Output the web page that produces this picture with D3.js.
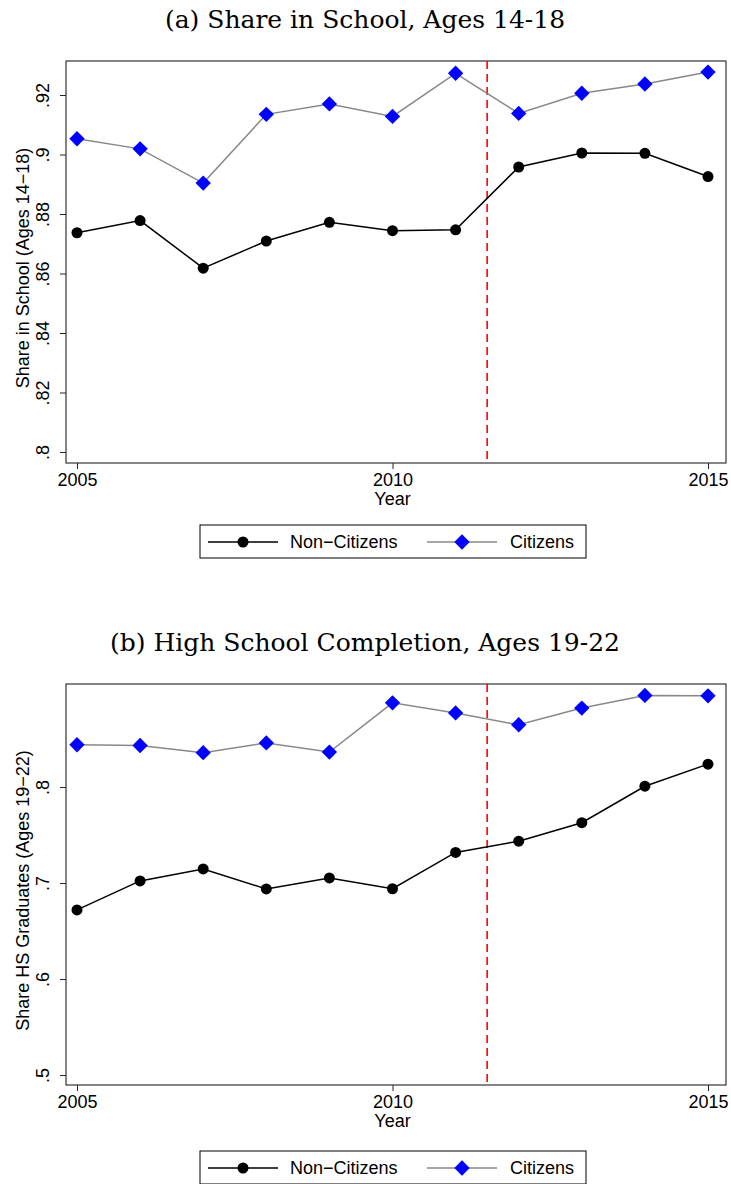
<!DOCTYPE html>
<html><head>
<meta charset="utf-8">
<script src="https://cdnjs.cloudflare.com/ajax/libs/d3/7.8.5/d3.min.js"></script>
<style>
body { margin: 0; background: #fff; }
svg { display: block; }
.tick-label, .axis-title, .legend text { font-family: "Liberation Sans", Arial, sans-serif; fill: #000; }
.panel-title { font-family: "DejaVu Serif", "Liberation Serif", serif; fill: #000; }
</style>
</head>
<body>
<div id="chart"></div>
<script>
// Data
const years = [2005, 2006, 2007, 2008, 2009, 2010, 2011, 2012, 2013, 2014, 2015];
const yearTicks = [2005, 2010, 2015];
const cutoffYear = 2011.5;

const schoolNonCitizens = [0.8737, 0.8778, 0.8618, 0.8709, 0.8772, 0.8744, 0.8747, 0.8958, 0.9005, 0.9004, 0.8926];
const schoolCitizens    = [0.9053, 0.9019, 0.8904, 0.9135, 0.9170, 0.9128, 0.9273, 0.9138, 0.9206, 0.9237, 0.9277];
const schoolTicks = [0.8, 0.82, 0.84, 0.86, 0.88, 0.9, 0.92];

const hsNonCitizens = [0.6720, 0.7022, 0.7146, 0.6938, 0.7053, 0.6940, 0.7318, 0.7436, 0.7628, 0.8008, 0.8238];
const hsCitizens    = [0.8440, 0.8432, 0.8358, 0.8459, 0.8364, 0.8877, 0.8772, 0.8648, 0.8822, 0.8954, 0.8950];
const hsTicks = [0.5, 0.6, 0.7, 0.8];

const seriesNames = ["Non\u2212Citizens", "Citizens"];

const width = 731, height = 1184;
const svg = d3.select("#chart").append("svg")
    .attr("width", width)
    .attr("height", height);

const fmt = v => d3.format(".2~f")(v).replace(/^0/, "");

function drawPanel(opt) {
    const g = svg.append("g").attr("transform", `translate(0,${opt.top})`);
    const box = {left: 66, right: 726, top: 0, bottom: opt.boxH};

    const x = d3.scaleLinear().domain([2005, 2015]).range([77, 708]);
    const y = d3.scaleLinear().domain(opt.yDomain).range(opt.yRange);

    // title
    svg.append("text")
        .attr("class", "panel-title")
        .attr("x", 365)
        .attr("y", opt.titleY)
        .attr("text-anchor", "middle")
        .style("font-size", "25px")
        .text(opt.title);

    // y axis
    const yAxis = g.append("g")
        .attr("transform", `translate(${box.left},0)`)
        .call(d3.axisLeft(y).tickValues(opt.yTicks).tickSize(6).tickFormat(fmt));
    yAxis.select(".domain").remove();
    yAxis.selectAll(".tick line").attr("stroke", "#222");
    yAxis.selectAll(".tick text")
        .attr("class", "tick-label")
        .attr("x", null).attr("dy", null)
        .attr("transform", "translate(-17,0) rotate(-90)")
        .attr("text-anchor", "middle")
        .style("font-size", "18px")
        .attr("font-family", null);

    // x axis
    const xAxis = g.append("g")
        .attr("transform", `translate(0,${box.bottom})`)
        .call(d3.axisBottom(x).tickValues(yearTicks).tickSize(6).tickFormat(d3.format("d")));
    xAxis.select(".domain").remove();
    xAxis.selectAll(".tick line").attr("stroke", "#222");
    xAxis.selectAll(".tick text")
        .attr("class", "tick-label")
        .attr("y", 23).attr("dy", null)
        .style("font-size", "18px")
        .attr("font-family", null);

    // frame
    g.append("rect")
        .attr("x", box.left).attr("y", box.top)
        .attr("width", box.right - box.left).attr("height", box.bottom - box.top)
        .attr("fill", "none").attr("stroke", "#333").attr("stroke-width", 1.2);

    // axis titles
    g.append("text")
        .attr("class", "axis-title")
        .attr("transform", `translate(29,${(box.top + box.bottom) / 2 + 6}) rotate(-90)`)
        .attr("text-anchor", "middle")
        .style("font-size", "18px")
        .text(opt.yTitle);

    g.append("text")
        .attr("class", "axis-title")
        .attr("x", x(2010))
        .attr("y", box.bottom + 42)
        .attr("text-anchor", "middle")
        .style("font-size", "18px")
        .text("Year");

    // cutoff line
    g.append("line")
        .attr("x1", x(cutoffYear)).attr("x2", x(cutoffYear))
        .attr("y1", box.top).attr("y2", box.bottom)
        .attr("stroke", "#ff0000").attr("stroke-width", 1.6)
        .attr("stroke-dasharray", "8,5");

    const line = d3.line().x(d => x(d[0])).y(d => y(d[1]));
    const nonCit = years.map((yr, i) => [yr, opt.nonCit[i]]);
    const cit = years.map((yr, i) => [yr, opt.cit[i]]);

    g.append("path").datum(cit)
        .attr("d", line).attr("fill", "none")
        .attr("stroke", "#888").attr("stroke-width", 1.5);
    g.append("path").datum(nonCit)
        .attr("d", line).attr("fill", "none")
        .attr("stroke", "#000").attr("stroke-width", 1.5);

    g.selectAll(".dot").data(nonCit).join("circle")
        .attr("cx", d => x(d[0])).attr("cy", d => y(d[1]))
        .attr("r", 5.5).attr("fill", "#000");

    const diamond = d3.symbol().type(d3.symbolDiamond2).size(150);
    g.selectAll(".dia").data(cit).join("path")
        .attr("d", diamond)
        .attr("transform", d => `translate(${x(d[0])},${y(d[1])})`)
        .attr("fill", "#0000ff");

    // legend
    const lg = svg.append("g").attr("class", "legend")
        .attr("transform", `translate(200,${opt.legendY})`);
    lg.append("rect").attr("width", 386).attr("height", 33)
        .attr("fill", "#fff").attr("stroke", "#000").attr("stroke-width", 1);
    lg.append("line").attr("x1", 8).attr("x2", 78).attr("y1", 17).attr("y2", 17)
        .attr("stroke", "#000").attr("stroke-width", 1.5);
    lg.append("circle").attr("cx", 43).attr("cy", 17).attr("r", 5.5).attr("fill", "#000");
    lg.append("text").attr("x", 90).attr("y", 23).style("font-size", "18px").text(seriesNames[0]);
    lg.append("line").attr("x1", 227).attr("x2", 297).attr("y1", 17).attr("y2", 17)
        .attr("stroke", "#888").attr("stroke-width", 1.5);
    lg.append("path").attr("d", diamond).attr("transform", "translate(262,17)").attr("fill", "#0000ff");
    lg.append("text").attr("x", 310).attr("y", 23).style("font-size", "18px").text(seriesNames[1]);
}

drawPanel({
    top: 61, boxH: 402, titleY: 28,
    title: "(a) Share in School, Ages 14-18",
    yTitle: "Share in School (Ages 14\u221218)",
    yDomain: [0.8, 0.92], yRange: [391, 34],
    yTicks: schoolTicks,
    nonCit: schoolNonCitizens, cit: schoolCitizens,
    legendY: 525
});

drawPanel({
    top: 684, boxH: 401, titleY: 651,
    title: "(b) High School Completion, Ages 19-22",
    yTitle: "Share HS Graduates (Ages 19\u221222)",
    yDomain: [0.5, 0.8], yRange: [391, 103],
    yTicks: hsTicks,
    nonCit: hsNonCitizens, cit: hsCitizens,
    legendY: 1151
});
</script>
</body></html>
